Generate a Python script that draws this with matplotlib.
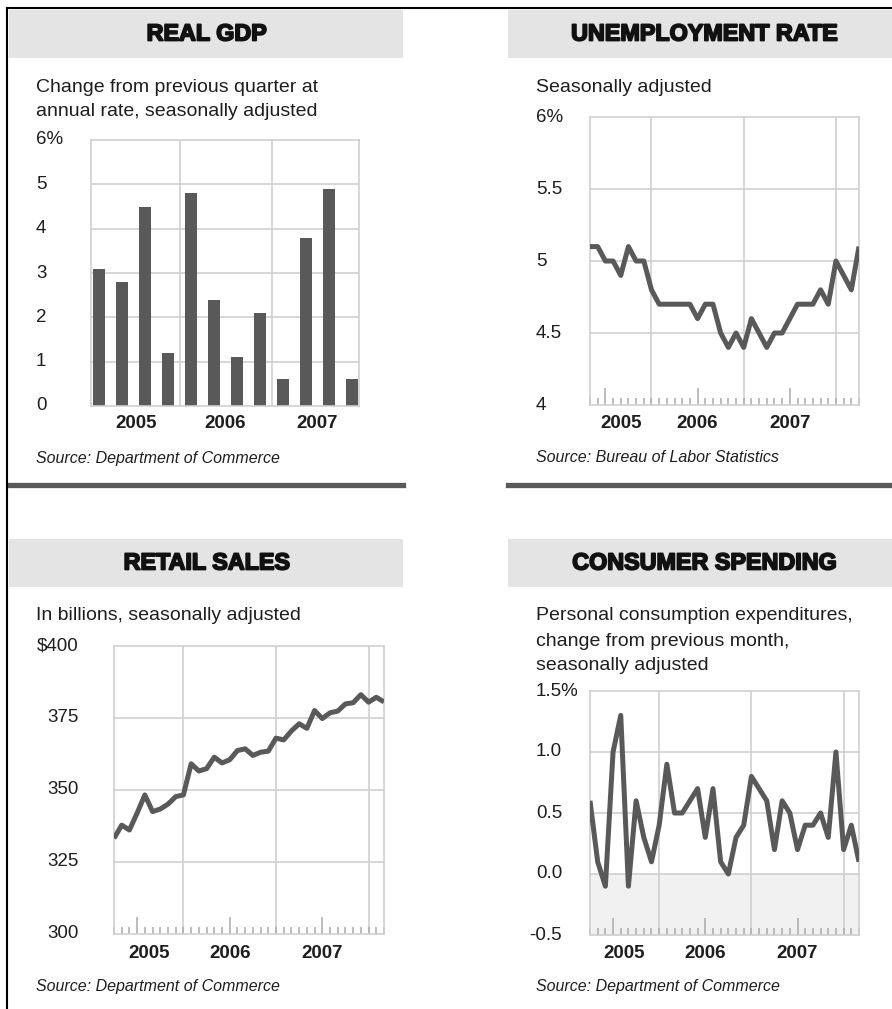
import numpy as np
import matplotlib
matplotlib.use('Agg')
import matplotlib.pyplot as plt
import matplotlib.patheffects as pe
from matplotlib.patches import Rectangle
from matplotlib.lines import Line2D
from matplotlib.transforms import blended_transform_factory

### data
gdp_growth = [3.1, 2.8, 4.5, 1.2, 4.8, 2.4, 1.1, 2.1, 0.6, 3.8, 4.9, 0.6]  # 2005 Q1 .. 2007 Q4

# monthly series, month index t = 1 is end of Jan 2005
unemp_start = 4  # Apr 2005
unemp_rate = [5.1, 5.1, 5.0, 5.0, 4.9, 5.1, 5.0, 5.0, 4.8, 4.7, 4.7, 4.7,
              4.7, 4.7, 4.6, 4.7, 4.7, 4.5, 4.4, 4.5, 4.4, 4.6, 4.5, 4.4,
              4.5, 4.5, 4.6, 4.7, 4.7, 4.7, 4.8, 4.7, 5.0, 4.9, 4.8, 5.1]

retail_start = 3  # Mar 2005
retail_sales = [333.2, 337.8, 336.1, 342.0, 348.3, 342.5, 343.4, 345.1, 347.7, 348.3, 359.1, 356.6,
                357.4, 361.4, 359.4, 360.5, 363.7, 364.3, 362.0, 363.1, 363.5, 368.0, 367.4, 370.5,
                373.0, 371.4, 377.6, 374.8, 376.8, 377.4, 379.9, 380.3, 383.1, 380.5, 382.2, 380.6]

spend_start = 3  # Mar 2005
spending_change = [0.6, 0.1, -0.1, 1.0, 1.3, -0.1, 0.6, 0.3, 0.1, 0.4, 0.9, 0.5,
                   0.5, 0.6, 0.7, 0.3, 0.7, 0.1, 0.0, 0.3, 0.4, 0.8, 0.7, 0.6,
                   0.2, 0.6, 0.5, 0.2, 0.4, 0.4, 0.5, 0.3, 1.0, 0.2, 0.4, 0.1]

years = ['2005', '2006', '2007']

### style
W, H = 892, 1009
FONT = ['Liberation Sans', 'DejaVu Sans']
TITLE_FONT = ['Liberation Sans', 'DejaVu Sans']
DARK = '#595959'
GRID = '#cfcfcf'
BAND = '#e4e4e4'
TXT = '#1e1e1e'

plt.rcParams['font.family'] = FONT

fig = plt.figure(figsize=(W / 100, H / 100), dpi=100)


def fx(x):
    return x / W


def fy(y):
    return 1 - y / H


def ftext(x, y, s, **kw):
    kw.setdefault('color', TXT)
    return fig.text(fx(x), fy(y), s, **kw)


def panel(dx, dy, title, subtitle, source, rule=True):
    '''
    draws the header band, title, subtitle and source of one panel.
    dx, dy are pixel offsets from the top-left panel.
    '''
    bx0 = 9 if dx == 0 else 508
    bx1 = 403 if dx == 0 else 892
    fig.add_artist(Rectangle((fx(bx0), fy(58 + dy)), (bx1 - bx0) / W, 48 / H,
                             transform=fig.transFigure, color=BAND, lw=0, zorder=0))
    # heavy display face: bold plus a thin stroke
    ftext(207 if dx == 0 else 705, 34 + dy, title, ha='center', va='center',
          fontsize=16.8, fontweight='bold', family=TITLE_FONT, color='#111111',
          path_effects=[pe.withStroke(linewidth=1.3, foreground='#111111')])
    for i, line in enumerate(subtitle):
        ftext(36 + dx, 87 + dy + 25 * i, line, ha='left', va='center', fontsize=14)
    ftext(36 + dx, 458 + dy, source, ha='left', va='center', fontsize=11.5, style='italic')
    if rule:
        fig.add_artist(Line2D([fx(bx0), fx(bx1)], [fy(485 + dy)] * 2,
                              transform=fig.transFigure, color=DARK, lw=3.8))


def add_plot(x0, y0, x1, y1):
    ax = fig.add_axes([fx(x0), fy(y1), (x1 - x0) / W, (y1 - y0) / H])
    for s in ax.spines.values():
        s.set_color(GRID)
        s.set_linewidth(1.2)
    ax.set_facecolor('none')
    return ax


def ylabels(ax, x, ticks, labels):
    tr = blended_transform_factory(fig.transFigure, ax.transData)
    for v, lab in zip(ticks, labels):
        xx = x - 7 if lab.startswith('-') else x
        ax.text(fx(xx), v, lab, transform=tr, ha='left', va='center',
                fontsize=13.5, color=TXT, clip_on=False)


def ylabels_right(ax, x, ticks, labels):
    tr = blended_transform_factory(fig.transFigure, ax.transData)
    for v, lab in zip(ticks, labels):
        ax.text(fx(x), v, lab, transform=tr, ha='right', va='center',
                fontsize=13.5, color=TXT, clip_on=False)


def xlabels(ax, y, pos):
    tr = blended_transform_factory(ax.transData, fig.transFigure)
    for p, lab in zip(pos, years):
        ax.text(p, fy(y), lab, transform=tr, ha='center', va='center',
                fontsize=13.5, fontweight='bold', color=TXT, clip_on=False)


def month_axis(ax, t0, t1):
    ax.set_xlim(t0, t1)
    for b in [12, 24, 36]:
        ax.axvline(b, color=GRID, lw=1.2, zorder=1)
    mid = [6, 18, 30]
    ax.set_xticks(mid)
    ax.set_xticks([t for t in range(int(np.ceil(t0)), int(t1) + 1) if t not in mid], minor=True)
    ax.tick_params(axis='x', which='major', direction='in', length=12, width=1.2,
                   color='#b0b0b0', labelbottom=False)
    ax.tick_params(axis='x', which='minor', direction='in', length=5, width=1.2,
                   color='#b0b0b0')
    ax.tick_params(axis='y', left=False, labelleft=False)
    xlabels_pos = [(t0 + 12) / 2, 18, 30]
    return xlabels_pos


def hgrid(ax, vals):
    for v in vals:
        ax.axhline(v, color=GRID, lw=1.2, zorder=1)


### REAL GDP
panel(0, 0, 'REAL GDP', ['Change from previous quarter at', 'annual rate, seasonally adjusted'],
      'Source: Department of Commerce')
ax = add_plot(91, 140, 359, 406)
x = np.arange(len(gdp_growth))
ax.bar(x, gdp_growth, width=0.5, color=DARK, zorder=2)
ax.set_xlim(-0.35, 11.3)
ax.set_ylim(0, 6)
hgrid(ax, [1, 2, 3, 4, 5])
for b in [3.5, 7.5]:
    ax.axvline(b, color=GRID, lw=1.2, zorder=1)
ax.set_xticks([])
ax.set_yticks([])
ylabels(ax, 36, [0, 1, 2, 3, 4, 5, 6], ['0', '1', '2', '3', '4', '5', '6%'])
xlabels(ax, 424, [1.6, 5.5, 9.5])

### UNEMPLOYMENT RATE
panel(500, 0, 'UNEMPLOYMENT RATE', ['Seasonally adjusted'], 'Source: Bureau of Labor Statistics')
ax = add_plot(590, 117, 859, 405)
t = np.arange(unemp_start, unemp_start + len(unemp_rate))
ax.plot(t, unemp_rate, color=DARK, lw=3.6, zorder=3, solid_capstyle='butt')
ax.set_ylim(4, 6)
hgrid(ax, [4.5, 5, 5.5])
pos = month_axis(ax, t[0], t[-1])
ylabels(ax, 536, [4, 4.5, 5, 5.5, 6], ['4', '4.5', '5', '5.5', '6%'])
xlabels(ax, 424, pos)

### RETAIL SALES
panel(0, 529, 'RETAIL SALES', ['In billions, seasonally adjusted'], 'Source: Department of Commerce',
      rule=False)
ax = add_plot(114, 646, 384, 934)
t = np.arange(retail_start, retail_start + len(retail_sales))
ax.plot(t, retail_sales, color=DARK, lw=3.6, zorder=3, solid_capstyle='butt')
ax.set_ylim(300, 400)
hgrid(ax, [325, 350, 375])
pos = month_axis(ax, t[0], t[-1])
ylabels_right(ax, 79, [300, 325, 350, 375, 400], ['300', '325', '350', '375', '$400'])
xlabels(ax, 953, pos)

### CONSUMER SPENDING
panel(500, 529, 'CONSUMER SPENDING',
      ['Personal consumption expenditures,', 'change from previous month,', 'seasonally adjusted'],
      'Source: Department of Commerce', rule=False)
ax = add_plot(590, 691, 859, 935)
t = np.arange(spend_start, spend_start + len(spending_change))
ax.axhspan(-0.5, 0, color='#f1f1f1', lw=0, zorder=0)
ax.plot(t, spending_change, color=DARK, lw=3.6, zorder=3, solid_capstyle='butt')
ax.set_ylim(-0.5, 1.5)
hgrid(ax, [0, 0.5, 1.0])
pos = month_axis(ax, t[0], t[-1])
ylabels(ax, 536, [-0.5, 0, 0.5, 1.0, 1.5], ['-0.5', '0.0', '0.5', '1.0', '1.5%'])
xlabels(ax, 953, pos)

# page frame lines
fig.add_artist(Line2D([fx(7), fx(7)], [fy(8), 0], transform=fig.transFigure, color='black', lw=1.5))
fig.add_artist(Line2D([fx(7), 1], [fy(8), fy(8)], transform=fig.transFigure, color='black', lw=1.5))

fig.savefig('out.png', dpi=100, facecolor='white')
